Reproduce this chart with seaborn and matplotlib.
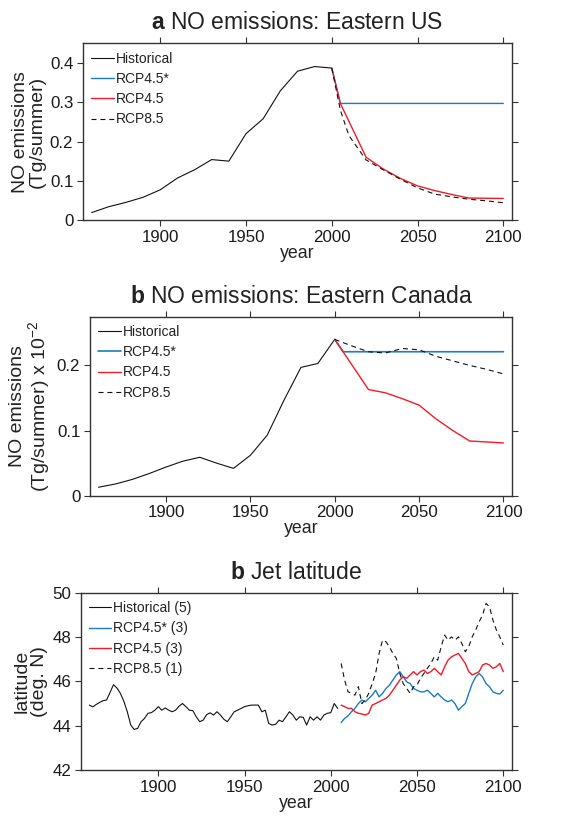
import matplotlib
matplotlib.use("Agg")
import matplotlib.pyplot as plt
import seaborn as sns
import pandas as pd

# colori delle serie
BLUE = "#1c7cc2"
RED = "#f01c28"
BLACK = "#111111"

# --- a: NO emissions Eastern US (Tg/summer)
us_hist_years = [1860, 1870, 1880, 1890, 1900, 1910, 1920, 1930, 1940, 1950, 1960, 1970, 1980, 1990, 2000]
us_hist = [0.019, 0.034, 0.045, 0.058, 0.077, 0.107, 0.128, 0.154, 0.150, 0.220, 0.258, 0.329, 0.379, 0.391, 0.387]
us_star_years = [2000, 2005, 2100]
us_star = [0.387, 0.297, 0.297]
us_45_years = [2000, 2005, 2020, 2030, 2040, 2050, 2060, 2070, 2080, 2100]
us_45 = [0.387, 0.297, 0.160, 0.130, 0.106, 0.087, 0.075, 0.065, 0.056, 0.055]
us_85_years = [2000, 2005, 2010, 2020, 2030, 2040, 2050, 2060, 2070, 2080, 2090, 2100]
us_85 = [0.387, 0.280, 0.215, 0.153, 0.128, 0.104, 0.082, 0.066, 0.059, 0.053, 0.049, 0.044]

# --- b: NO emissions Eastern Canada
ca_hist_years = us_hist_years
ca_hist = [0.013, 0.018, 0.025, 0.034, 0.044, 0.053, 0.059, 0.050, 0.042, 0.062, 0.093, 0.147, 0.197, 0.203, 0.240]
ca_star_years = [2000, 2005, 2100]
ca_star = [0.240, 0.221, 0.221]
ca_45_years = [2000, 2020, 2030, 2040, 2050, 2060, 2070, 2080, 2100]
ca_45 = [0.240, 0.163, 0.158, 0.149, 0.139, 0.118, 0.100, 0.084, 0.081]
ca_85_years = [2000, 2010, 2020, 2030, 2040, 2050, 2060, 2070, 2080, 2090, 2100]
ca_85 = [0.240, 0.230, 0.221, 0.219, 0.226, 0.224, 0.214, 0.207, 0.200, 0.194, 0.187]

# --- c: jet latitude (deg N)
jet_hist_years = list(range(1860, 2006, 2))
jet_hist = [44.93, 44.85, 44.96, 45.05, 45.13, 45.16, 45.50, 45.85, 45.70, 45.46,
            45.10, 44.63, 44.03, 43.83, 43.88, 44.18, 44.33, 44.56, 44.59, 44.70,
            44.86, 44.70, 44.80, 44.70, 44.63, 44.70, 44.88, 45.00, 44.86, 44.70,
            44.68, 44.40, 44.18, 44.25, 44.50, 44.58, 44.48, 44.63, 44.48, 44.29,
            44.18, 44.40, 44.63, 44.70, 44.78, 44.86, 44.90, 44.93, 44.93, 44.93,
            44.63, 44.70, 44.10, 44.03, 44.06, 44.25, 44.18, 44.40, 44.63, 44.48,
            44.25, 44.40, 44.38, 44.03, 44.40, 44.25, 44.40, 44.25, 44.48, 44.56,
            44.59, 45.00, 44.78]
jet_fut_years = list(range(2006, 2101, 2))
jet_star = [44.14, 44.33, 44.44, 44.63, 44.78, 45.00, 45.16, 45.08, 45.23, 45.38,
            45.60, 45.30, 45.46, 45.68, 45.83, 46.06, 46.29, 46.44, 46.21, 45.98,
            45.90, 45.68, 45.60, 45.53, 45.53, 45.60, 45.46, 45.30, 45.46, 45.30,
            45.16, 45.08, 45.16, 45.00, 44.70, 44.86, 45.00, 45.46, 45.90, 46.20,
            46.36, 46.20, 45.90, 45.76, 45.53, 45.46, 45.43, 45.60]
jet_45 = [44.93, 44.86, 44.78, 44.78, 44.63, 44.56, 44.53, 44.48, 44.56, 44.93,
          45.00, 45.08, 45.16, 45.23, 45.38, 45.60, 45.83, 46.06, 46.21, 46.14,
          46.29, 46.44, 46.29, 46.44, 46.51, 46.36, 46.44, 46.59, 46.44, 46.29,
          46.66, 46.96, 47.11, 47.19, 47.26, 47.04, 46.81, 46.44, 46.29, 46.36,
          46.44, 46.74, 46.81, 46.74, 46.59, 46.66, 46.81, 46.44]
jet_85 = [46.81, 46.06, 45.53, 45.46, 45.38, 45.76, 45.00, 45.16, 45.46, 45.90,
          46.36, 47.26, 47.86, 47.79, 47.56, 47.26, 47.04, 46.36, 45.90, 45.68,
          45.46, 45.76, 45.83, 46.14, 46.36, 46.59, 46.81, 47.11, 46.96, 47.56,
          48.09, 47.86, 48.01, 47.86, 48.01, 47.71, 47.34, 47.56, 48.01, 48.32,
          48.69, 48.99, 49.52, 49.37, 48.77, 48.32, 48.01, 47.64]

sns.set_style("ticks")
plt.rcParams["font.family"] = ["Liberation Sans", "DejaVu Sans"]
plt.rcParams["mathtext.fontset"] = "custom"
plt.rcParams["mathtext.rm"] = "Liberation Sans"
plt.rcParams["mathtext.bf"] = "Liberation Sans:bold"
plt.rcParams["text.color"] = "#222222"
plt.rcParams["axes.labelcolor"] = "#222222"

fig = plt.figure(figsize=(5.85, 8.18), dpi=100)


def draw_panel(ax, series, title, ylabel, ylim, yticks, legend_labels):
    for (xs, ys, color, ls, lw), lab in zip(series, legend_labels):
        df = pd.DataFrame({"year": xs, "val": ys})
        sns.lineplot(data=df, x="year", y="val", ax=ax, color=color, linewidth=lw,
                     linestyle=ls, label=lab)
    ax.set_xlim(1855, 2105)
    ax.set_ylim(*ylim)
    ax.set_xticks([1900, 1950, 2000, 2050, 2100])
    ax.set_yticks(yticks)
    ax.set_yticklabels(["0" if v == 0 else f"{v:g}" for v in yticks])
    ax.tick_params(direction="out", length=4, width=0.8, labelsize=12.2,
                   top=True, right=True, labeltop=False, labelright=False,
                   colors="#333333", labelcolor="#1a1a1a", pad=3)
    for s in ax.spines.values():
        s.set_visible(True)
        s.set_linewidth(1.0)
        s.set_color("#333333")
    ax.set_xlabel("year", fontsize=12.8, labelpad=0)
    ax.set_ylabel(ylabel, fontsize=14, labelpad=3, linespacing=1.0)
    ax.set_title(title, fontsize=16.5, pad=10)
    ax.legend(loc="upper left", frameon=False, fontsize=10, handlelength=1.6,
              handletextpad=0.15, labelspacing=0.45, borderaxespad=0.2,
              borderpad=0.4)


lab4 = ["Historical", "RCP4.5*", "RCP4.5", "RCP8.5"]
dash = (0, (4.5, 3.5))

ax1 = fig.add_axes([0.142, 0.731, 0.733, 0.216])
draw_panel(ax1,
           [(us_hist_years, us_hist, BLACK, "-", 0.8),
            (us_star_years, us_star, BLUE, "-", 1.0),
            (us_45_years, us_45, RED, "-", 1.0),
            (us_85_years, us_85, BLACK, dash, 0.8)],
           r"$\mathbf{a}$ NO emissions: Eastern US",
           "NO emissions\n(Tg/summer)", (0, 0.45), [0, 0.1, 0.2, 0.3, 0.4], lab4)

ax2 = fig.add_axes([0.154, 0.394, 0.721, 0.219])
draw_panel(ax2,
           [(ca_hist_years, ca_hist, BLACK, "-", 0.8),
            (ca_star_years, ca_star, BLUE, "-", 1.2),
            (ca_45_years, ca_45, RED, "-", 1.0),
            (ca_85_years, ca_85, BLACK, dash, 0.8)],
           r"$\mathbf{b}$ NO emissions: Eastern Canada",
           "NO emissions\n(Tg/summer) x 10$^{-2}$", (0, 0.275), [0, 0.1, 0.2], lab4)

ax3 = fig.add_axes([0.138, 0.0587, 0.737, 0.2166])
draw_panel(ax3,
           [(jet_hist_years, jet_hist, BLACK, "-", 0.8),
            (jet_fut_years, jet_star, BLUE, "-", 1.0),
            (jet_fut_years, jet_45, RED, "-", 1.0),
            (jet_fut_years, jet_85, BLACK, dash, 0.8)],
           r"$\mathbf{b}$ Jet latitude",
           "latitude\n(deg. N)", (42, 50), [42, 44, 46, 48, 50],
           ["Historical (5)", "RCP4.5* (3)", "RCP4.5 (3)", "RCP8.5 (1)"])

fig.savefig("out.png", dpi=100)
